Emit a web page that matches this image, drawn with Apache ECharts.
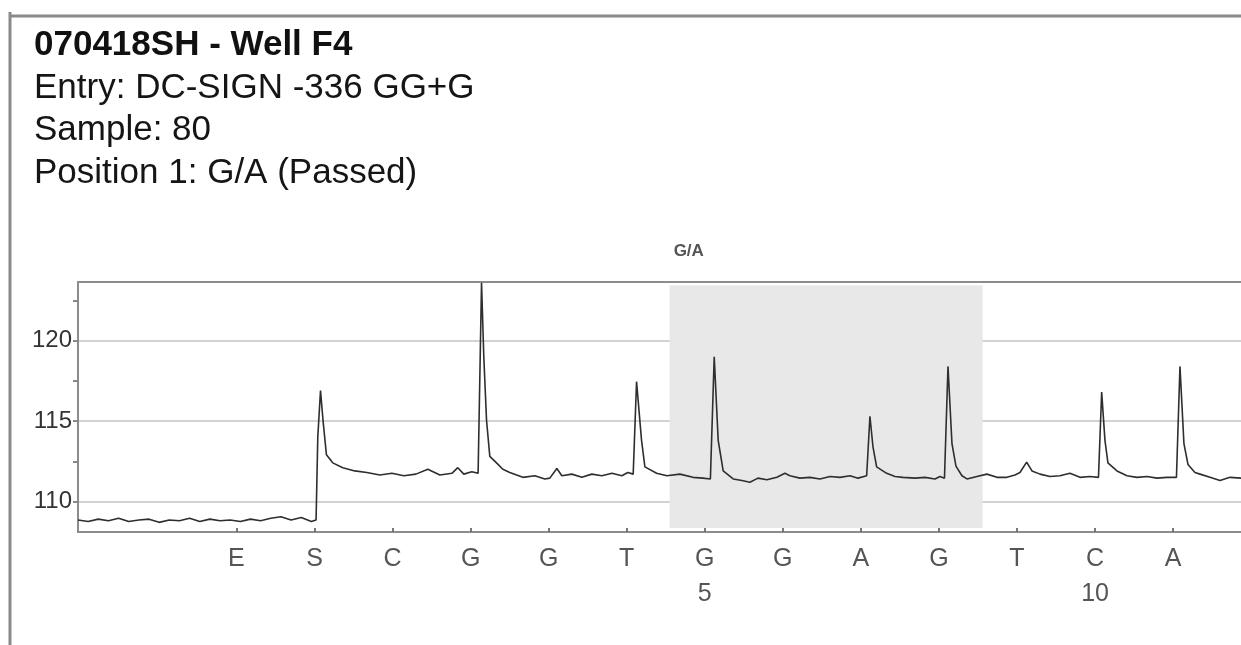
<!DOCTYPE html>
<html>
<head>
<meta charset="utf-8">
<script src="https://cdn.jsdelivr.net/npm/echarts@6/dist/echarts.min.js"></script>
<style>
html,body{margin:0;padding:0;background:#fff;}
#chart{width:1241px;height:645px;}
</style>
</head>
<body>
<div id="chart"></div>
<script>
// ---- data ----
const headerTitle = '070418SH - Well F4';
const headerLines = ['Entry: DC-SIGN -336 GG+G', 'Sample: 80', 'Position 1: G/A (Passed)'];

const dispensations = ['E','S','C','G','G','T','G','G','A','G','T','C','A'];
const positionNumbers = ['','','','','','','5','','','','','10',''];

const yLabelValues = [110, 115, 120];
const yTickValues = [110, 112.5, 115, 117.5, 120, 122.5];

const variantLabel = 'G/A';
const variantRange = [6.55, 10.56];

const traceX = [
  -1.03,-0.90,-0.77,-0.64,-0.51,-0.38,-0.25,-0.12,0.01,0.14,0.27,0.40,0.53,0.66,0.79,0.92,1.05,1.18,1.31,1.44,1.57,1.70,1.83,1.96,2.02,
  2.029,2.042,2.077,2.110,2.153,2.234,2.362,2.516,2.670,2.837,2.991,3.145,3.299,3.452,3.606,3.760,3.836,3.913,4.015,4.096,
  4.140,4.169,4.204,4.246,4.332,4.413,4.502,4.669,4.823,4.951,5.015,5.105,5.169,5.297,5.425,5.553,5.681,5.810,5.938,6.014,6.083,
  6.126,6.190,6.233,6.383,6.515,6.681,6.848,6.976,7.072,
  7.121,7.172,7.236,7.364,7.476,7.578,7.681,7.796,7.924,8.027,8.091,8.219,8.347,8.476,8.604,8.732,8.860,8.963,9.074,
  9.116,9.155,9.202,9.330,9.437,9.539,9.693,9.821,9.949,10.013,10.071,
  10.116,10.167,10.218,10.295,10.359,10.487,10.615,10.743,10.871,10.974,11.038,11.124,11.192,11.294,11.423,11.551,11.679,11.807,11.935,12.044,
  12.085,12.127,12.165,12.281,12.409,12.537,12.665,12.793,12.921,13.043,
  13.088,13.139,13.191,13.280,13.345,13.473,13.601,13.729,13.870
];
const traceY = [
  108.85,108.75,108.90,108.80,108.95,108.75,108.85,108.90,108.70,108.85,108.80,108.95,108.75,108.90,108.80,108.85,108.75,108.90,108.80,108.95,109.05,108.85,109.00,108.75,108.85,
  108.90,114.00,116.90,115.00,112.90,112.40,112.10,111.90,111.80,111.65,111.75,111.60,111.70,112.00,111.65,111.75,112.10,111.70,111.85,111.75,
  123.60,119.00,115.05,112.80,112.40,112.00,111.80,111.50,111.60,111.40,111.45,112.05,111.60,111.70,111.50,111.70,111.60,111.75,111.60,111.80,111.70,
  117.45,113.80,112.15,111.75,111.60,111.70,111.50,111.45,111.40,
  119.00,113.80,111.90,111.40,111.30,111.20,111.45,111.35,111.50,111.75,111.60,111.45,111.50,111.40,111.55,111.50,111.60,111.45,111.60,
  115.30,113.40,112.15,111.75,111.55,111.50,111.45,111.50,111.40,111.55,111.45,
  118.40,113.60,112.20,111.60,111.40,111.55,111.70,111.50,111.50,111.65,111.80,112.45,111.90,111.70,111.55,111.60,111.75,111.50,111.55,111.50,
  116.80,113.80,112.40,111.90,111.60,111.50,111.55,111.45,111.50,111.50,
  118.40,113.60,112.30,111.80,111.70,111.50,111.30,111.50,111.45
];

// ---- chart ----
const FONT = '"Liberation Sans", Arial, sans-serif';
const chart = echarts.init(document.getElementById('chart'), null, {renderer: 'canvas'});

const dispValues = dispensations.map((_, i) => i + 1);

const option = {
  backgroundColor: '#ffffff',
  animation: false,
  textStyle: {fontFamily: FONT},
  grid: {left: 78, right: 0, top: 282, bottom: 113, containLabel: false},
  xAxis: [
    {
      type: 'value', min: -1.03, max: 13.87, position: 'bottom',
      axisLine: {show: true, onZero: false, lineStyle: {color: '#8c8c8c', width: 2}},
      axisTick: {show: true, inside: true, length: 4, customValues: dispValues, lineStyle: {color: '#777', width: 2}},
      axisLabel: {
        show: true, customValues: dispValues, margin: 10,
        fontSize: 25, lineHeight: 35, color: '#555', fontFamily: FONT,
        formatter: function (v) {
          const i = Math.round(v) - 1;
          if (i < 0 || i >= dispensations.length) return '';
          return positionNumbers[i] ? dispensations[i] + '\n' + positionNumbers[i] : dispensations[i];
        }
      },
      splitLine: {show: false}
    },
    {
      type: 'value', min: -1.03, max: 13.87, position: 'top',
      axisLine: {show: true, onZero: false, lineStyle: {color: '#8c8c8c', width: 2}},
      axisTick: {show: false}, axisLabel: {show: false}, splitLine: {show: false}
    }
  ],
  yAxis: [
    {
      type: 'value', min: 108.1, max: 123.65, position: 'left',
      axisLine: {show: true, onZero: false, lineStyle: {color: '#8c8c8c', width: 2}},
      axisTick: {show: true, length: 5, customValues: yTickValues, lineStyle: {color: '#888', width: 2}},
      axisLabel: {show: true, customValues: yLabelValues, margin: 6, fontSize: 24, color: '#333', fontFamily: FONT},
      splitLine: {show: false}
    },
    {
      type: 'value', min: 108.1, max: 123.65, position: 'left', splitNumber: 3,
      axisLine: {show: false, onZero: false}, axisTick: {show: false}, axisLabel: {show: false},
      splitLine: {show: true, lineStyle: {color: '#d2d2d2', width: 2}}
    }
  ],
  series: [
    {
      type: 'line',
      xAxisIndex: 0, yAxisIndex: 0,
      data: traceX.map((x, i) => [x, traceY[i]]),
      showSymbol: false, symbol: 'none', smooth: false, clip: true,
      lineStyle: {color: '#2e2e2e', width: 1.6},
      z: 3,
      markArea: {
        silent: true,
        z: 1,
        itemStyle: {color: '#e8e8e8'},
        label: {
          show: true, position: [4, -42], formatter: variantLabel,
          fontSize: 17, fontWeight: 'bold', color: '#555', fontFamily: FONT
        },
        data: [[{coord: [variantRange[0], 108.35]}, {coord: [variantRange[1], 123.45]}]]
      }
    }
  ],
  graphic: [
    {type: 'line', silent: true, shape: {x1: 10, y1: 12, x2: 10, y2: 645}, style: {stroke: '#8a8a8a', lineWidth: 3}},
    {type: 'line', silent: true, shape: {x1: 10, y1: 16, x2: 1241, y2: 16}, style: {stroke: '#8a8a8a', lineWidth: 3}},
    {type: 'text', silent: true, x: 34, y: 45, style: {text: headerTitle, font: 'bold 35px ' + FONT, fill: '#111', verticalAlign: 'middle'}},
    {type: 'text', silent: true, x: 34, y: 88, style: {text: headerLines[0], font: '35px ' + FONT, fill: '#151515', verticalAlign: 'middle'}},
    {type: 'text', silent: true, x: 34, y: 130, style: {text: headerLines[1], font: '35px ' + FONT, fill: '#151515', verticalAlign: 'middle'}},
    {type: 'text', silent: true, x: 34, y: 173, style: {text: headerLines[2], font: '35px ' + FONT, fill: '#151515', verticalAlign: 'middle'}}
  ]
};
chart.setOption(option);
</script>
</body>
</html>
